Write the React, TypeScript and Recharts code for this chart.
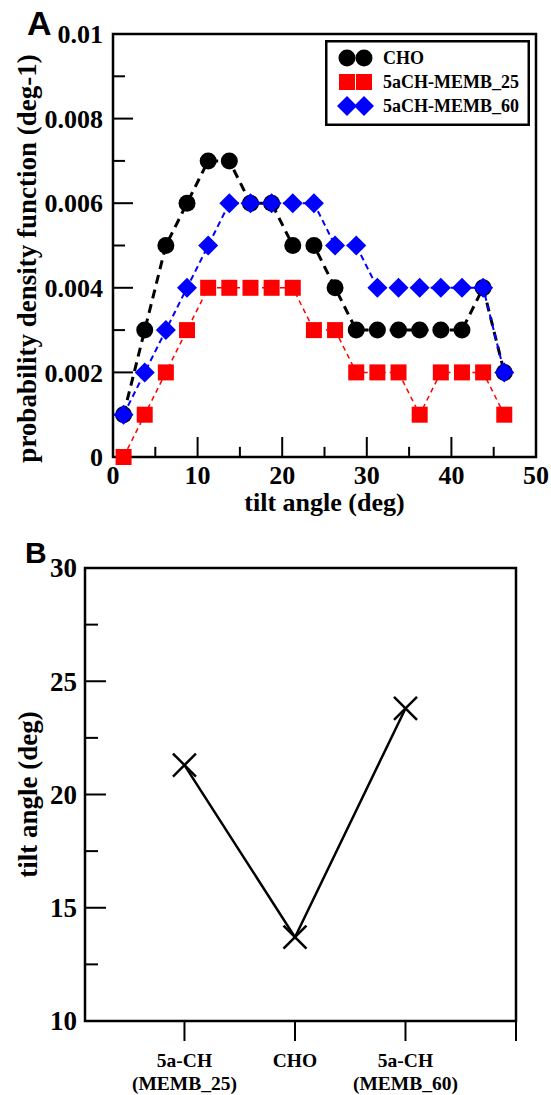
import React from 'react';
import { LineChart, Line, XAxis, YAxis, ReferenceArea, ReferenceLine, Legend } from 'recharts';

const SERIF = '"Liberation Serif", "Times New Roman", serif';
const SANS = '"Liberation Sans", Arial, sans-serif';

// panel A: probability density of the tilt angle
const tiltBins = [1.25, 3.75, 6.25, 8.75, 11.25, 13.75, 16.25, 18.75, 21.25, 23.75, 26.25, 28.75, 31.25, 33.75, 36.25, 38.75, 41.25, 43.75, 46.25];
const choPdf = [0.001, 0.003, 0.005, 0.006, 0.007, 0.007, 0.006, 0.006, 0.005, 0.005, 0.004, 0.003, 0.003, 0.003, 0.003, 0.003, 0.003, 0.004, 0.002];
const memb25Pdf = [0, 0.001, 0.002, 0.003, 0.004, 0.004, 0.004, 0.004, 0.004, 0.003, 0.003, 0.002, 0.002, 0.002, 0.001, 0.002, 0.002, 0.002, 0.001];
const memb60Pdf = [0.001, 0.002, 0.003, 0.004, 0.005, 0.006, 0.006, 0.006, 0.006, 0.006, 0.005, 0.005, 0.004, 0.004, 0.004, 0.004, 0.004, 0.004, 0.002];
const legendOrder = ['cho', 'm25', 'm60'];
const xTicksA = [0, 10, 20, 30, 40, 50];
const xMinorA = [5, 15, 25, 35, 45];
const yTicksA = [0, 0.002, 0.004, 0.006, 0.008, 0.01];
const yMinorA = [0.001, 0.003, 0.005, 0.007, 0.009];

// panel B: average tilt angle per system
const systemPos = [1, 2, 3];
const systemTop = ['5a-CH', 'CHO', '5a-CH'];
const systemBottom = ['(MEMB_25)', '', '(MEMB_60)'];
const meanTilt = [21.3, 13.7, 23.8];
const xTicksB = [1, 2, 3, 4];
const yTicksB = [10, 15, 20, 25, 30];
const yMinorB = [12.5, 17.5, 22.5, 27.5];

const pdfData = tiltBins.map((x, i) => ({ x, cho: choPdf[i], m25: memb25Pdf[i], m60: memb60Pdf[i] }));
const tiltData = systemPos.map((x, i) => ({ x, tilt: meanTilt[i] }));

const blank = () => '';
const tickStroke = { stroke: '#000', strokeWidth: 2 };
// minor inward x tick length of panel A, in y-axis units (about 10px)
const MINOR_LEN_A = 0.00024;

const circle = (cx: number, cy: number, k?: any) => <circle key={k} cx={cx} cy={cy} r={8.5} fill="#000" />;
const square = (cx: number, cy: number, k?: any) => (
  <rect key={k} x={cx - 8} y={cy - 8} width={16} height={16} fill="#ff0000" />
);
const diamond = (cx: number, cy: number, k?: any) => (
  <polygon key={k} points={`${cx},${cy - 10} ${cx + 10},${cy} ${cx},${cy + 10} ${cx - 10},${cy}`} fill="#0000ff" />
);
const markers: Record<string, (cx: number, cy: number, k?: any) => React.ReactElement> = {
  cho: circle,
  m25: square,
  m60: diamond,
};

const dotFor = (key: string) => (p: any) => {
  if (p.cx == null || p.cy == null) return <g key={p.key} />;
  return markers[key](p.cx, p.cy, p.key);
};

const crossDot = (p: any) => {
  if (p.cx == null || p.cy == null) return <g key={p.key} />;
  const s = 11.5;
  return (
    <g key={p.key} stroke="#000" strokeWidth={2.5}>
      <line x1={p.cx - s} y1={p.cy - s} x2={p.cx + s} y2={p.cy + s} />
      <line x1={p.cx - s} y1={p.cy + s} x2={p.cx + s} y2={p.cy - s} />
    </g>
  );
};

const LegendBox = ({ payload }: any) => {
  const items = [...(payload || [])].sort(
    (a: any, b: any) => legendOrder.indexOf(a.dataKey) - legendOrder.indexOf(b.dataKey)
  );
  return (
    <svg width={205} height={86}>
      <rect x={1.25} y={1.25} width={202.5} height={83.5} fill="#fff" stroke="#000" strokeWidth={2.5} />
      {items.map((p: any, i: number) => {
        const cy = 18 + i * 24;
        const m = markers[p.dataKey];
        return (
          <g key={p.dataKey}>
            {m(22, cy)}
            {m(39, cy)}
            <text x={58} y={cy} dy="0.35em" fontSize={18} fontWeight="bold" fontFamily={SERIF} fill="#000">
              {p.value}
            </text>
          </g>
        );
      })}
    </svg>
  );
};

const yTick = (size: number, fmt: (v: number) => string) => ({ x, y, payload }: any) => (
  <text x={x} y={y} dy="0.35em" textAnchor="end" fontSize={size} fontWeight="bold" fontFamily={SERIF} fill="#000">
    {fmt(payload.value)}
  </text>
);

const xTick = (size: number) => ({ x, y, payload }: any) => (
  <text x={x} y={y} dy="0.7em" textAnchor="middle" fontSize={size} fontWeight="bold" fontFamily={SERIF} fill="#000">
    {String(payload.value)}
  </text>
);

const SystemTick = ({ x, y, payload }: any) => {
  const i = systemPos.indexOf(payload.value);
  if (i < 0) return <g />;
  return (
    <text x={x} y={y} textAnchor="middle" fontSize={19.5} fontWeight="bold" fontFamily={SERIF} fill="#000">
      <tspan x={x} dy={20}>{systemTop[i]}</tspan>
      {systemBottom[i] && <tspan x={x} dy={23}>{systemBottom[i]}</tspan>}
    </text>
  );
};

const rotatedLabel = (text: string, dx: number, dyShift: number, size: number) => (props: any) => {
  const vb = props.viewBox || {};
  const x = vb.x + dx;
  const y = vb.y + vb.height / 2 + dyShift;
  return (
    <text
      x={x}
      y={y}
      transform={`rotate(-90, ${x}, ${y})`}
      textAnchor="middle"
      dominantBaseline="central"
      fontSize={size}
      fontWeight="bold"
      fontFamily={SERIF}
      fill="#000"
    >
      {text}
    </text>
  );
};

const PanelLetter = ({ letter, left, top, size }: { letter: string; left: number; top: number; size: number }) => (
  <svg width={60} height={60} style={{ position: 'absolute', left, top: top - 10 }}>
    <text x={0} y={size * 0.72 + 10} fontSize={size} fontWeight="bold" fontFamily={SANS} fill="#000">
      {letter}
    </text>
  </svg>
);

// inward y tick marks: mirrored helper axes with empty labels
const innerY = (id: string, domain: number[], ticks: number[], size: number) => (
  <YAxis
    yAxisId={id}
    type="number"
    domain={domain}
    allowDataOverflow
    ticks={ticks}
    mirror
    width={1}
    axisLine={false}
    tickSize={size}
    tickFormatter={blank}
    tickLine={tickStroke}
  />
);

export default function App() {
  return (
    <div style={{ position: 'absolute', left: 0, top: 0, width: 551, height: 1095, background: '#fff' }}>
      <div style={{ position: 'absolute', left: 0, top: 0 }}>
        <LineChart width={551} height={530} data={pdfData} margin={{ top: 34, right: 15, bottom: 0, left: 0 }}>
          <XAxis
            dataKey="x"
            type="number"
            domain={[0, 50]}
            ticks={xTicksA}
            interval={0}
            height={73}
            axisLine={false}
            tickLine={tickStroke}
            tickSize={-20}
            tickMargin={29}
            tick={xTick(26)}
            label={{ value: 'tilt angle (deg)', position: 'insideBottom', offset: 19, fill: '#000', fontSize: 26, fontWeight: 'bold', fontFamily: SERIF }}
          />
          <YAxis
            type="number"
            domain={[0, 0.01]}
            ticks={yTicksA}
            width={113}
            axisLine={false}
            tickLine={false}
            tickSize={0}
            tickMargin={10}
            tick={yTick(26, (v) => String(v))}
            label={{ content: rotatedLabel('probability density function (deg-1)', 27, 13, 27) }}
          />
          {innerY('ymaj', [0, 0.01], yTicksA, 20)}
          {innerY('ymin', [0, 0.01], yMinorA, 11)}
          {xMinorA.map((v) => (
            <ReferenceLine
              key={`xt-${v}`}
              segment={[{ x: v, y: 0 }, { x: v, y: MINOR_LEN_A }]}
              stroke="#000"
              strokeWidth={2}
              ifOverflow="visible"
            />
          ))}
          <ReferenceArea x1={0} x2={50} y1={0} y2={0.01} fill="none" stroke="#000" strokeWidth={2.5} />
          <Line dataKey="cho" name="CHO" type="linear" stroke="#000" strokeWidth={3} strokeDasharray="9 6" dot={dotFor('cho')} activeDot={false} isAnimationActive={false} />
          <Line dataKey="m25" name="5aCH-MEMB_25" type="linear" stroke="#ff0000" strokeWidth={1.5} strokeDasharray="5 4" dot={dotFor('m25')} activeDot={false} isAnimationActive={false} />
          <Line dataKey="m60" name="5aCH-MEMB_60" type="linear" stroke="#0000ff" strokeWidth={2} strokeDasharray="6 4" dot={dotFor('m60')} activeDot={false} isAnimationActive={false} />
          <Legend
            layout="horizontal"
            verticalAlign="middle"
            align="center"
            wrapperStyle={{ position: 'absolute', left: 325, top: 40, width: 205, height: 86 }}
            content={LegendBox}
          />
        </LineChart>
      </div>
      <PanelLetter letter="A" left={27} top={11} size={34} />

      <div style={{ position: 'absolute', left: 0, top: 530 }}>
        <LineChart width={551} height={565} data={tiltData} margin={{ top: 38, right: 35, bottom: 0, left: 0 }}>
          <XAxis
            dataKey="x"
            type="number"
            domain={[0.1, 4]}
            ticks={xTicksB}
            interval={0}
            height={74}
            axisLine={false}
            tickSize={20}
            tickMargin={6}
            tickLine={tickStroke}
            tick={SystemTick}
          />
          <YAxis
            type="number"
            domain={[10, 30]}
            ticks={yTicksB}
            width={85}
            axisLine={false}
            tickLine={false}
            tickSize={0}
            tickMargin={8}
            tick={yTick(27, (v) => String(v))}
            label={{ content: rotatedLabel('tilt angle (deg)', 28, 0, 27) }}
          />
          {innerY('ymaj', [10, 30], yTicksB, 21)}
          {innerY('ymin', [10, 30], yMinorB, 12)}
          <ReferenceArea x1={0.1} x2={4} y1={10} y2={30} fill="none" stroke="#000" strokeWidth={2.5} />
          <Line dataKey="tilt" type="linear" stroke="#000" strokeWidth={2.5} dot={crossDot} activeDot={false} isAnimationActive={false} />
        </LineChart>
      </div>
      <PanelLetter letter="B" left={25} top={541} size={30} />
    </div>
  );
}
